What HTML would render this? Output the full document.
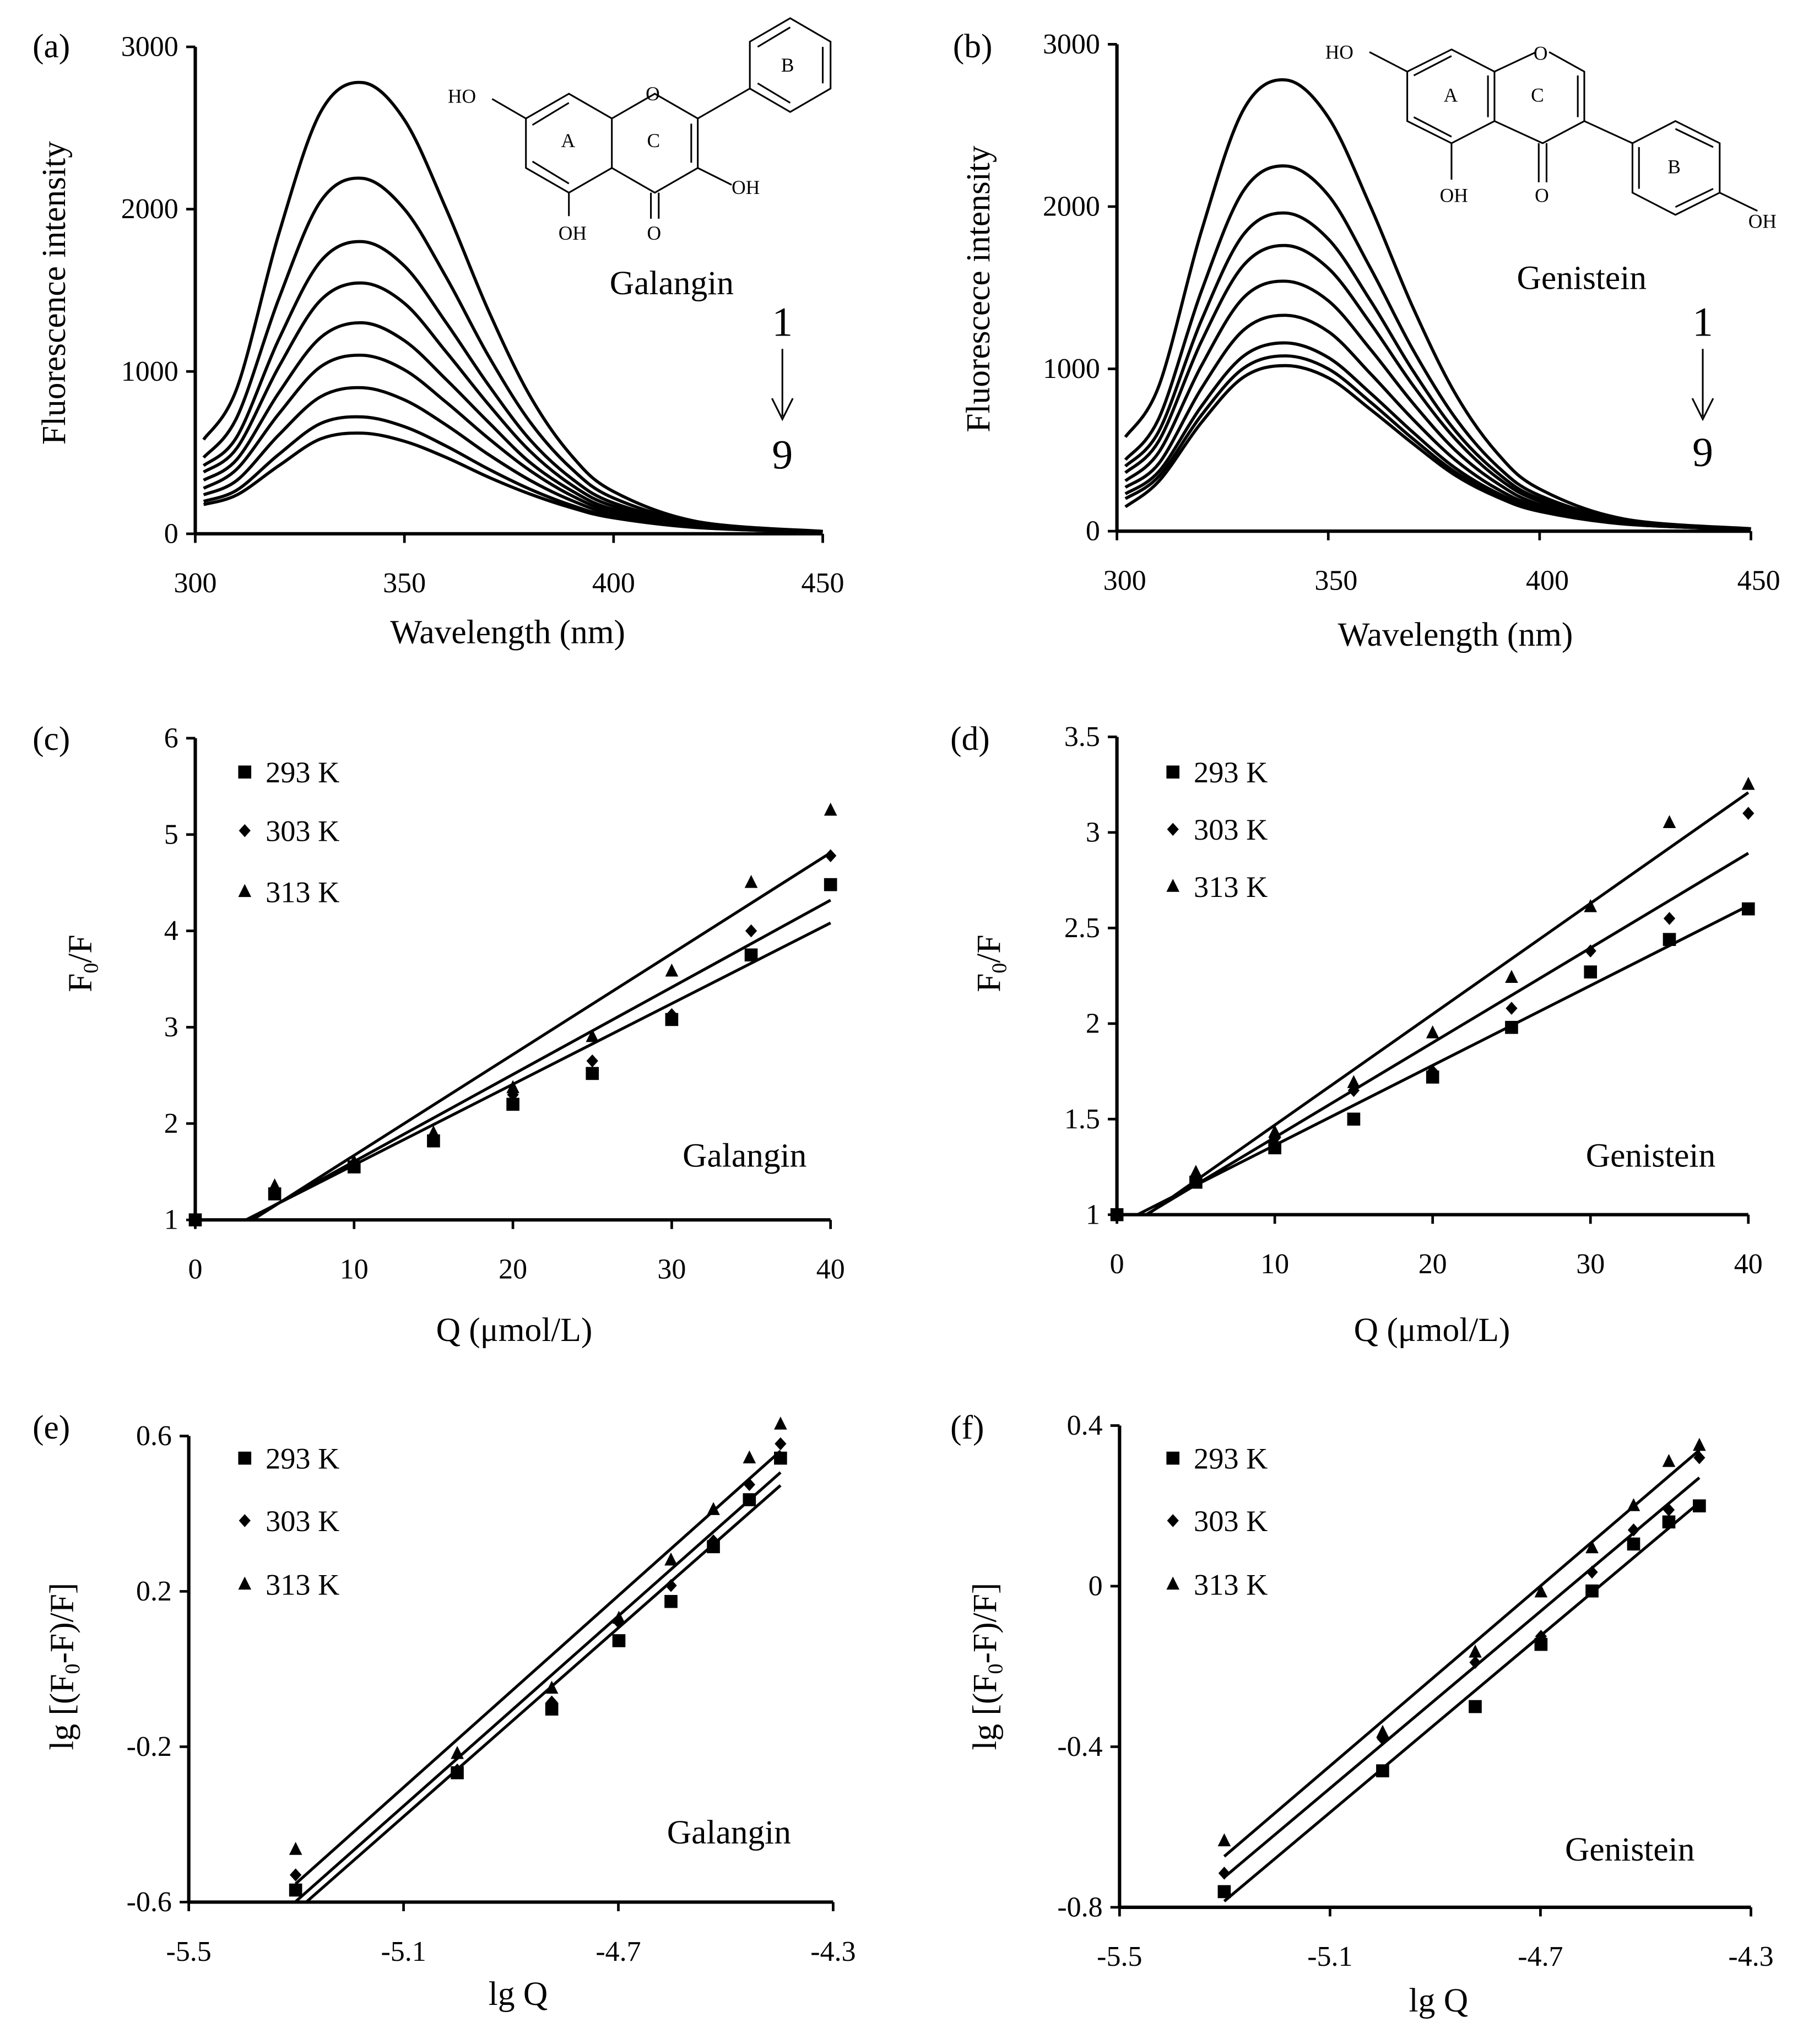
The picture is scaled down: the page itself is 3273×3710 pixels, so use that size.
<!DOCTYPE html>
<html><head><meta charset="utf-8"><style>html,body{margin:0;padding:0;background:#fff}svg{display:block}svg text{font-family:"Liberation Serif","DejaVu Serif",serif;fill:#000}</style></head>
<body>
<svg id="fig" xmlns="http://www.w3.org/2000/svg" width="3273" height="3710" viewBox="0 0 1385 1570" preserveAspectRatio="none" font-family="Liberation Serif, DejaVu Serif, serif">
<rect width="1385" height="1570" fill="#fff"/>
<g id="static" stroke="#000" stroke-width="1.3" fill="none">
 <g>
  <polygon points="437,72 470,91 470,129 437,148 404,129 404,91"/>
  <polyline points="470,91 503,72 536,91 536,129 503,148 470,129"/>
  <line x1="409" y1="96" x2="437" y2="79"/><line x1="409" y1="124" x2="437" y2="141"/>
  <line x1="531" y1="95" x2="531" y2="125"/>
  <polygon points="576,68 576,32 607,14 638,32 638,68 607,86"/>
  <line x1="582" y1="36" x2="607" y2="21"/><line x1="632" y1="36" x2="632" y2="64"/><line x1="582" y1="64" x2="607" y2="79"/>
  <line x1="536" y1="91" x2="576" y2="68"/>
  <line x1="404" y1="91" x2="378" y2="76"/>
  <line x1="437" y1="148" x2="437" y2="166"/>
  <line x1="500" y1="148" x2="500" y2="168"/><line x1="506" y1="148" x2="506" y2="168"/>
  <line x1="536" y1="129" x2="562" y2="142"/>
 </g>
 <g>
  <polygon points="1115,38 1148,55 1148,93 1115,110 1081,93 1081,55"/>
  <polyline points="1148,55 1180,40"/><polyline points="1190,40 1217,55 1217,93 1185,110 1148,93"/>
  <line x1="1086" y1="58" x2="1115" y2="43"/><line x1="1086" y1="90" x2="1115" y2="105"/><line x1="1143" y1="58" x2="1143" y2="90"/>
  <line x1="1212" y1="58" x2="1212" y2="90"/>
  <line x1="1217" y1="93" x2="1254" y2="110"/>
  <polygon points="1254,110 1287,93 1321,110 1321,148 1287,165 1254,148"/>
  <line x1="1287" y1="99" x2="1316" y2="113"/><line x1="1259" y1="113" x2="1259" y2="145"/><line x1="1287" y1="159" x2="1316" y2="145"/>
  <line x1="1321" y1="148" x2="1350" y2="162"/>
  <line x1="1081" y1="55" x2="1052" y2="40"/>
  <line x1="1115" y1="110" x2="1115" y2="138"/>
  <line x1="1182" y1="110" x2="1182" y2="140"/><line x1="1188" y1="110" x2="1188" y2="140"/>
 </g>
 <line x1="601" y1="268" x2="601" y2="320"/>
 <polyline points="593,306 601,322 609,306"/>
 <line x1="1308" y1="268" x2="1308" y2="320"/>
 <polyline points="1300,306 1308,322 1316,306"/>
</g>
<g font-size="15">
 <text x="344" y="79">HO</text><text x="431" y="113">A</text><text x="497" y="113">C</text><text x="496" y="77">O</text>
 <text x="600" y="55">B</text><text x="562" y="149">OH</text><text x="429" y="184">OH</text><text x="497" y="184">O</text>
 <text x="1018" y="45">HO</text><text x="1109" y="78">A</text><text x="1176" y="78">C</text><text x="1178" y="46">O</text>
 <text x="1281" y="133">B</text><text x="1343" y="175">OH</text><text x="1106" y="155">OH</text><text x="1179" y="155">O</text>
</g>
<g font-size="26">
 <text x="516" y="226" text-anchor="middle">Galangin</text>
 <text x="1215" y="222" text-anchor="middle">Genistein</text>
 <text x="601" y="258" text-anchor="middle" font-size="32">1</text>
 <text x="601" y="360" text-anchor="middle" font-size="32">9</text>
 <text x="1308" y="258" text-anchor="middle" font-size="32">1</text>
 <text x="1308" y="358" text-anchor="middle" font-size="32">9</text>
 <text x="572" y="896" text-anchor="middle">Galangin</text>
 <text x="1268" y="896" text-anchor="middle">Genistein</text>
 <text x="560" y="1416" text-anchor="middle">Galangin</text>
 <text x="1252" y="1429" text-anchor="middle">Genistein</text>
 <text x="25" y="44">(a)</text><text x="732" y="44">(b)</text><text x="25" y="576">(c)</text>
 <text x="730" y="576">(d)</text><text x="25" y="1105">(e)</text><text x="730" y="1105">(f)</text>
</g>
<g id="charts"></g>
</svg>
<script>
const NS="http://www.w3.org/2000/svg";
const root=document.getElementById('charts');
function mk(tag,attrs,parent,txt){const e=document.createElementNS(NS,tag);for(const k in attrs)e.setAttribute(k,attrs[k]);if(txt!==undefined)e.textContent=txt;(parent||root).appendChild(e);return e;}

// ---- data ----
const specWavelengths=[302,310,320,330,340,350,360,370,380,390,400,420,450];
const galanginSpectra=[
[580,900,1850,2600,2780,2550,2000,1380,850,480,260,75,15],
[470,720,1450,2050,2190,2000,1580,1100,690,400,220,68,14],
[420,600,1200,1680,1800,1650,1300,920,580,340,190,62,13],
[380,530,1030,1440,1545,1420,1120,800,510,300,170,57,12],
[330,460,870,1210,1300,1190,950,690,440,265,150,52,11],
[280,400,740,1030,1100,1010,810,590,390,235,135,48,10],
[240,330,610,845,900,825,670,490,330,205,120,44,10],
[200,270,490,680,720,660,540,400,275,175,105,40,9],
[180,240,420,585,620,570,470,350,245,160,98,38,9]];
const genisteinSpectra=[
[580,900,1850,2600,2780,2550,2000,1380,850,480,260,75,15],
[440,700,1480,2100,2250,2070,1620,1120,700,400,220,68,14],
[400,620,1300,1830,1960,1800,1420,990,620,360,200,64,13],
[360,560,1170,1640,1760,1620,1280,900,570,330,185,60,12],
[310,490,1020,1440,1540,1420,1120,790,500,295,165,55,12],
[270,420,880,1240,1330,1230,970,690,440,260,150,50,11],
[230,370,770,1080,1160,1070,850,610,390,235,135,47,10],
[200,340,715,1005,1080,1000,795,570,365,220,128,45,10],
[150,310,670,950,1020,945,750,540,345,210,122,44,10]];
const qConc=[0,5,10,15,20,25,30,35,40];
const galSV293=[1,1.27,1.55,1.82,2.2,2.52,3.08,3.75,4.48];
const galSV303=[1,1.3,1.57,1.86,2.3,2.65,3.13,4.0,4.78];
const galSV313=[1,1.35,1.6,1.9,2.37,2.9,3.58,4.5,5.25];
const genSV293=[1,1.17,1.35,1.5,1.72,1.98,2.27,2.44,2.6];
const genSV303=[1,1.19,1.4,1.65,1.75,2.08,2.38,2.55,3.1];
const genSV313=[1,1.22,1.43,1.69,1.95,2.24,2.61,3.05,3.25];
const lgQ=[-5.301,-5.0,-4.824,-4.699,-4.602,-4.523,-4.456,-4.398];
const galLg293=[-0.569,-0.267,-0.103,0.073,0.174,0.315,0.436,0.543];
const galLg303=[-0.53,-0.26,-0.085,0.12,0.215,0.33,0.475,0.58];
const galLg313=[-0.465,-0.218,-0.05,0.13,0.28,0.41,0.543,0.63];
const genLg293=[-0.761,-0.46,-0.30,-0.145,-0.012,0.105,0.16,0.20];
const genLg303=[-0.715,-0.38,-0.19,-0.125,0.035,0.14,0.19,0.32];
const genLg313=[-0.635,-0.365,-0.165,-0.015,0.095,0.20,0.31,0.35];
const tempLabels=['293 K','303 K','313 K'];
const specXTicks=[300,350,400,450];
const specYTicks=[0,1000,2000,3000];
const qTicks=[0,10,20,30,40];
const galSVTicks=[1,2,3,4,5,6];
const genSVTicks=[1,1.5,2,2.5,3,3.5];
const lgQTicks=[-5.5,-5.1,-4.7,-4.3];
const galLgTicks=[-0.6,-0.2,0.2,0.6];
const genLgTicks=[-0.8,-0.4,0,0.4];

function scale(d0,d1,r0,r1){return v=>r0+(v-d0)*(r1-r0)/(d1-d0);}
function axes(p){
  const g=mk('g',{});
  
  
  const x0=p.sx(p.xd[0]),x1=p.sx(p.xd[1]),y0=p.sy(p.yd[0]),y1=p.sy(p.yd[1]);
  mk('line',{x1:x0,y1:y0,x2:x0,y2:y1,stroke:'#000','stroke-width':2.6},g);
  mk('line',{x1:x0,y1:y0,x2:x1,y2:y0,stroke:'#000','stroke-width':2.6},g);
  p.xt.forEach(v=>{const x=p.sx(v);mk('line',{x1:x,y1:y0,x2:x,y2:y0+7,stroke:'#000','stroke-width':2},g);
    const t=mk('text',{x:x+(p.xoff||0),y:y0+45,'font-size':22,'text-anchor':'middle'},g,String(v));
    });
  p.yt.forEach(v=>{const y=p.sy(v);mk('line',{x1:x0-7,y1:y,x2:x0,y2:y,stroke:'#000','stroke-width':2},g);
    const t=mk('text',{x:x0-13,y:y+7,'font-size':22,'text-anchor':'end'},g,String(v));
    });
  const xt=mk('text',{x:p.xtp[0],y:p.xtp[1],'font-size':26,'text-anchor':'middle'},g,p.xtitle);
  
  const yt=mk('text',{x:0,y:0,'font-size':26,'text-anchor':'middle',transform:`translate(${p.ytp[0]},${p.ytp[1]}) rotate(-90)`},g);
  
  yt.innerHTML=p.ytitle;
}
function smooth(pts){let d=`M${pts[0][0]},${pts[0][1]}`;
  for(let i=0;i<pts.length-1;i++){const p0=pts[i-1]||pts[i],p1=pts[i],p2=pts[i+1],p3=pts[i+2]||p2;
    d+=` C${p1[0]+(p2[0]-p0[0])/6},${p1[1]+(p2[1]-p0[1])/6} ${p2[0]-(p3[0]-p1[0])/6},${p2[1]-(p3[1]-p1[1])/6} ${p2[0]},${p2[1]}`;}
  return d;}
function spectra(name,data,sx,sy){
  data.forEach((c,i)=>{const pts=specWavelengths.map((w,j)=>[sx(w),sy(c[j])]);
    const e=mk('path',{d:smooth(pts),fill:'none',stroke:'#000','stroke-width':2.4});
    
    });
}
function marker(kind,x,y,g){
  if(kind===0)return mk('rect',{x:x-5,y:y-5,width:10,height:10,fill:'#000'},g);
  if(kind===1)return mk('polygon',{points:`${x},${y-5} ${x+4.5},${y} ${x},${y+5} ${x-4.5},${y}`,fill:'#000'},g);
  return mk('polygon',{points:`${x},${y-6} ${x+5},${y+4} ${x-5},${y+4}`,fill:'#000'},g);
}
function fit(xs,ys){const n=xs.length;let mx=0,my=0;for(let i=0;i<n;i++){mx+=xs[i];my+=ys[i];}mx/=n;my/=n;
  let sxy=0,sxx=0;for(let i=0;i<n;i++){sxy+=(xs[i]-mx)*(ys[i]-my);sxx+=(xs[i]-mx)**2;}const b=sxy/sxx;return [b,my-b*mx];}
function scatter(name,xs,series,sx,sy,ymin,xmax,legendX,legendYs){
  series.forEach((ys,k)=>{
    const [b,a]=fit(xs,ys);
    let xa=xs[0]; if(a+b*xa<ymin) xa=(ymin-a)/b;
    const ln=mk('line',{x1:sx(xa),y1:sy(a+b*xa),x2:sx(xmax),y2:sy(a+b*xmax),stroke:'#000','stroke-width':2.2});
    
    
    ys.forEach((v,i)=>{const m=marker(k,sx(xs[i]),sy(v));
      
      });
    const lg=mk('g',{});
    
    
    marker(k,legendX,legendYs[k],lg);
    mk('text',{x:legendX+16,y:legendYs[k]+8,'font-size':23},lg,tempLabels[k]);
  });
}
let sx=scale(300,450,150,632), sy=scale(0,3000,410,36);
axes({name:'panel-a',sx,sy,xd:[300,450],yd:[0,3000],xt:specXTicks,yt:specYTicks,xtitle:'Wavelength (nm)',xtp:[390,494],ytitle:'Fluorescence intensity',ytp:[50,225]});
spectra('galangin',galanginSpectra,sx,sy);
sx=scale(300,450,858,1345); sy=scale(0,3000,408,34);
axes({name:'panel-b',sx,sy,xd:[300,450],yd:[0,3000],xt:specXTicks,yt:specYTicks,xoff:6,xtitle:'Wavelength (nm)',xtp:[1118,496],ytitle:'Fluorescece intensity',ytp:[760,222]});
spectra('genistein',genisteinSpectra,sx,sy);
sx=scale(0,40,150,638); sy=scale(1,6,937,567);
axes({name:'panel-c',sx,sy,xd:[0,40],yd:[1,6],xt:qTicks,yt:galSVTicks,xtitle:'Q (μmol/L)',xtp:[395,1030],ytitle:'F<tspan font-size="16" dy="5">0</tspan><tspan dy="-5">/F</tspan>',ytp:[70,740]});
scatter('galangin-sv',qConc,[galSV293,galSV303,galSV313],sx,sy,1,40,188,[593,638,685]);
sx=scale(0,40,858,1343); sy=scale(1,3.5,933,566);
axes({name:'panel-d',sx,sy,xd:[0,40],yd:[1,3.5],xt:qTicks,yt:genSVTicks,xtitle:'Q (μmol/L)',xtp:[1100,1030],ytitle:'F<tspan font-size="16" dy="5">0</tspan><tspan dy="-5">/F</tspan>',ytp:[768,740]});
scatter('genistein-sv',qConc,[genSV293,genSV303,genSV313],sx,sy,1,40,901,[593,637,681]);
sx=scale(-5.5,-4.3,145,640); sy=scale(-0.6,0.6,1461,1103);
axes({name:'panel-e',sx,sy,xd:[-5.5,-4.3],yd:[-0.6,0.6],xt:lgQTicks,yt:galLgTicks,xtitle:'lg Q',xtp:[398,1540],ytitle:'lg [(F<tspan font-size="16" dy="5">0</tspan><tspan dy="-5">-F)/F]</tspan>',ytp:[56,1280]});
scatter('galangin-lg',lgQ,[galLg293,galLg303,galLg313],sx,sy,-0.6,-4.398,188,[1120,1168,1217]);
sx=scale(-5.5,-4.3,860,1345); sy=scale(-0.8,0.4,1465,1095);
axes({name:'panel-f',sx,sy,xd:[-5.5,-4.3],yd:[-0.8,0.4],xt:lgQTicks,yt:genLgTicks,xtitle:'lg Q',xtp:[1105,1545],ytitle:'lg [(F<tspan font-size="16" dy="5">0</tspan><tspan dy="-5">-F)/F]</tspan>',ytp:[765,1280]});
scatter('genistein-lg',lgQ,[genLg293,genLg303,genLg313],sx,sy,-0.8,-4.398,901,[1120,1168,1217]);
</script>
</body></html>
